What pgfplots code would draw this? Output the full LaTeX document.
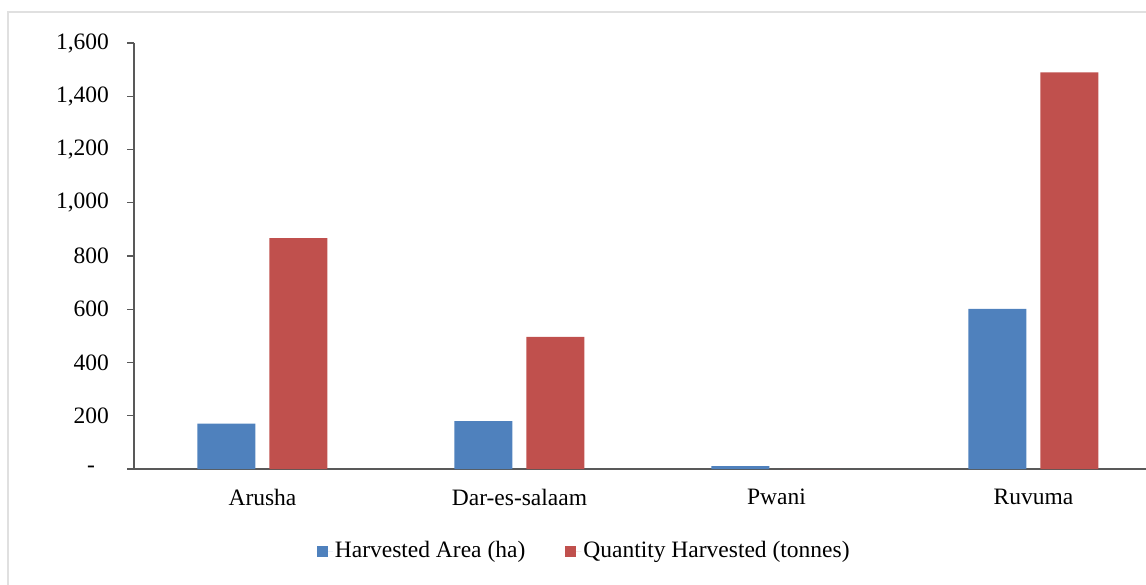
\documentclass[border=0pt]{standalone}
\usepackage{pgfplots}
\pgfplotsset{compat=1.18}
\usepackage{fontspec}
\setmainfont{Liberation Serif}
\definecolor{barblue}{HTML}{4F81BD}
\definecolor{barred}{HTML}{C0504D}
\definecolor{axgray}{HTML}{595959}
\begin{document}
\fontsize{23.5}{28}\selectfont
\begin{tikzpicture}[x=1pt,y=1pt]
\useasboundingbox (0,0) rectangle (1146,584);
\draw[black!12, line width=2.5pt] (8,-20) -- (8,572) -- (1180,572);
\begin{axis}[
  at={(134pt,115pt)}, anchor=south west,
  scale only axis, width=1028pt, height=426pt,
  xmin=-0.5, xmax=3.5, ymin=0, ymax=1600,
  axis lines*=left,
  axis line style={axgray, line width=1.3pt},
  xtick={0,1,2,3},
  xticklabels={Arusha,Dar-es-salaam,Pwani,Ruvuma},
  x tick style={draw=none},
  ytick={0,200,400,600,800,1000,1200,1400,1600},
  yticklabels={{-\rule{14pt}{0pt}},200,400,600,800,{1,000},{1,200},{1,400},{1,600}},
  y tick style={axgray, line width=1.3pt},
  tick align=outside, major tick length=7pt,
  /pgf/number format/assume math mode=true,
  tick label style={font=\fontsize{23.5}{28}\selectfont},
  yticklabel style={xshift=-10pt},
  xticklabel style={yshift=-5pt},
  legend style={at={(0.438,-0.1925)}, anchor=center, draw=none, fill=none,
    font=\fontsize{23.5}{28}\selectfont, legend columns=2,
    /tikz/every even column/.append style={column sep=38pt}},
  legend image code/.code={\fill[#1] (0pt,-5.5pt) rectangle (11pt,5.5pt); \path (0pt,0pt) -- (16pt,0pt);},
]
\addplot[ybar, bar width=58pt, bar shift=-36pt, fill=barblue, draw=none] coordinates {(0,170) (1,180) (2,11) (3,601)};
\addlegendentry{Harvested Area (ha)}
\addplot[ybar, bar width=58pt, bar shift=36pt, fill=barred, draw=none] coordinates {(0,867) (1,496) (2,0) (3,1490)};
\addlegendentry{Quantity Harvested (tonnes)}
\end{axis}
\end{tikzpicture}
\end{document}
